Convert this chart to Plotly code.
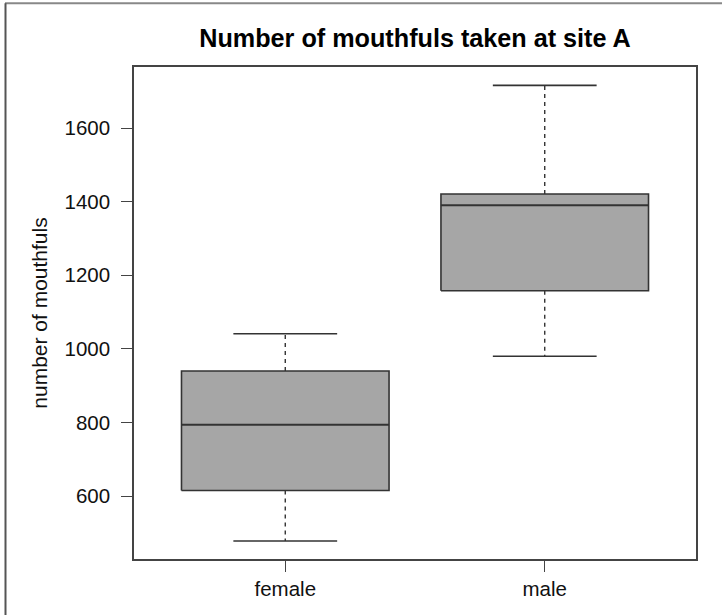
import plotly.graph_objects as go

categories = ["female", "male"]
positions = [1, 2]
lower_whisker = [478, 980]
q1 = [615, 1158]
median = [794, 1390]
q3 = [940, 1421]
upper_whisker = [1041, 1716]
y_ticks = [600, 800, 1000, 1200, 1400, 1600]

BOX_HALF = 0.4
CAP_HALF = 0.2
FILL = "#a6a6a6"
LINE = "#333333"

fig = go.Figure()

for i, p in enumerate(positions):
    # dashed whiskers
    fig.add_trace(go.Scatter(
        x=[p, p, None, p, p],
        y=[q3[i], upper_whisker[i], None, q1[i], lower_whisker[i]],
        mode="lines", line=dict(color=LINE, width=1.4, dash="4px,4px"),
        hoverinfo="skip", showlegend=False))
    # caps
    fig.add_trace(go.Scatter(
        x=[p - CAP_HALF, p + CAP_HALF, None, p - CAP_HALF, p + CAP_HALF],
        y=[upper_whisker[i], upper_whisker[i], None, lower_whisker[i], lower_whisker[i]],
        mode="lines", line=dict(color=LINE, width=1.6),
        hoverinfo="skip", showlegend=False))
    # box
    fig.add_trace(go.Scatter(
        x=[p - BOX_HALF, p + BOX_HALF, p + BOX_HALF, p - BOX_HALF, p - BOX_HALF],
        y=[q1[i], q1[i], q3[i], q3[i], q1[i]],
        mode="lines", fill="toself", fillcolor=FILL,
        line=dict(color=LINE, width=1.6),
        name=categories[i], showlegend=False))
    # median
    fig.add_trace(go.Scatter(
        x=[p - BOX_HALF, p + BOX_HALF],
        y=[median[i], median[i]],
        mode="lines", line=dict(color=LINE, width=2),
        hoverinfo="skip", showlegend=False))

fig.update_layout(
    width=722, height=615,
    margin=dict(l=134, r=26, t=67, b=56),
    paper_bgcolor="white", plot_bgcolor="white",
    font=dict(family="Liberation Sans, Arial, sans-serif", size=20.5, color="#111111"),
    title=dict(text="<b>Number of mouthfuls taken at site A</b>",
               x=(134 + 696) / 2 / 722, xanchor="center",
               y=1 - 38.5 / 615, yanchor="middle",
               font=dict(size=25.2, color="#000000")),
    xaxis=dict(range=[0.417, 2.583], tickvals=positions, ticktext=categories,
               showgrid=False, zeroline=False, showline=True, mirror=True,
               linecolor="#444444", linewidth=1.6,
               ticks="outside", ticklen=11, tickwidth=1.4, tickcolor="#444444"),
    yaxis=dict(range=[429, 1766], tickvals=y_ticks, ticklabelstandoff=7,
               title=dict(text="number of mouthfuls", standoff=11, font=dict(size=21)),
               showgrid=False, zeroline=False, showline=True, mirror=True,
               linecolor="#444444", linewidth=1.6,
               ticks="outside", ticklen=11, tickwidth=1.4, tickcolor="#444444"),
    shapes=[
        dict(type="line", xref="paper", yref="paper",
             x0=-129 / 562, x1=1.2, y0=(559 - 3) / 492.3, y1=(559 - 3) / 492.3,
             line=dict(color="#888888", width=2)),
        dict(type="line", xref="paper", yref="paper",
             x0=-128.5 / 562, x1=-128.5 / 562, y0=-0.2, y1=(559 - 3) / 492.3,
             line=dict(color="#555555", width=2)),
    ],
)

fig.write_html("out.html", config={"displayModeBar": False},
               post_script="document.body.style.margin='0';document.body.style.padding='0';")
